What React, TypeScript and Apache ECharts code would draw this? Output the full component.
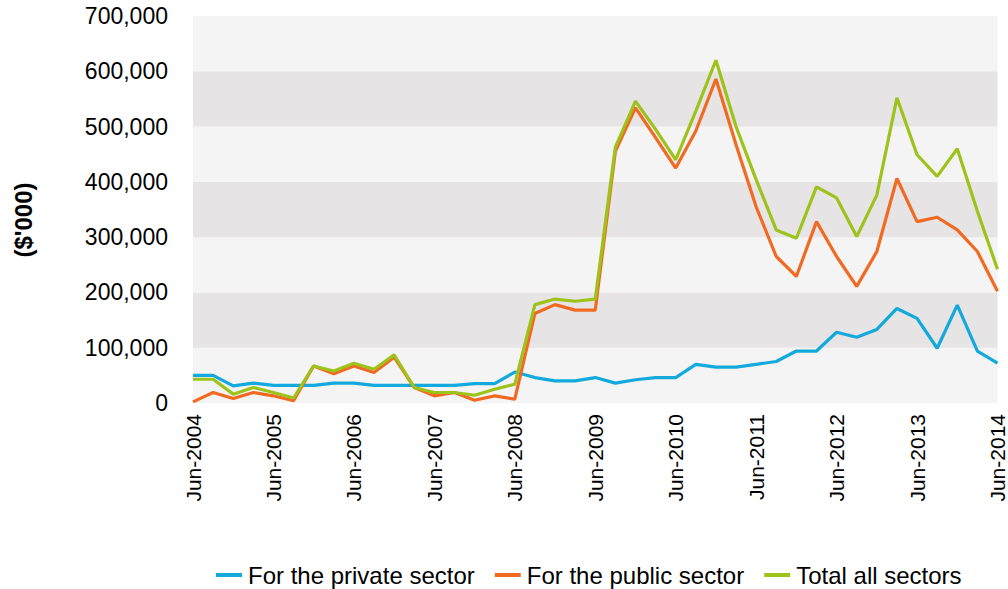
import React, { useEffect, useRef } from "react";
import * as echarts from "echarts";

const categories: string[] = [
  "Jun-2004", "Sep-2004", "Dec-2004", "Mar-2005",
  "Jun-2005", "Sep-2005", "Dec-2005", "Mar-2006",
  "Jun-2006", "Sep-2006", "Dec-2006", "Mar-2007",
  "Jun-2007", "Sep-2007", "Dec-2007", "Mar-2008",
  "Jun-2008", "Sep-2008", "Dec-2008", "Mar-2009",
  "Jun-2009", "Sep-2009", "Dec-2009", "Mar-2010",
  "Jun-2010", "Sep-2010", "Dec-2010", "Mar-2011",
  "Jun-2011", "Sep-2011", "Dec-2011", "Mar-2012",
  "Jun-2012", "Sep-2012", "Dec-2012", "Mar-2013",
  "Jun-2013", "Sep-2013", "Dec-2013", "Mar-2014",
  "Jun-2014",
];

// values in $'000
const privateSector: number[] = [
  50000, 50000, 31000, 36000, 32000, 32000, 32000, 36000, 36000, 32000,
  32000, 32000, 32000, 32000, 35000, 35000, 56000, 46000, 40000, 40000,
  46000, 36000, 42000, 46000, 46000, 70000, 65000, 65000, 70000, 75000,
  94000, 94000, 128000, 119000, 133000, 171000, 153000, 99000, 177000, 94000,
  72000,
];

const publicSector: number[] = [
  2000, 19000, 8000, 19000, 13000, 4000, 67000, 53000, 67000, 55000,
  83000, 28000, 13000, 19000, 5000, 13000, 7000, 162000, 178000, 168000,
  168000, 455000, 534000, 480000, 425000, 492000, 586000, 467000, 355000, 265000,
  229000, 328000, 265000, 211000, 274000, 406000, 328000, 336000, 313000, 274000,
  202000,
];

const totalAllSectors: number[] = [
  43000, 43000, 16000, 28000, 19000, 9000, 67000, 58000, 72000, 61000,
  87000, 28000, 19000, 19000, 14000, 25000, 34000, 178000, 188000, 184000,
  188000, 463000, 546000, 495000, 440000, 528000, 620000, 500000, 404000, 313000,
  298000, 391000, 371000, 301000, 376000, 552000, 449000, 410000, 460000, 347000,
  242000,
];

const seriesNames: string[] = [
  "For the private sector",
  "For the public sector",
  "Total all sectors",
];

const FONT = "'Liberation Sans', Arial, Helvetica, sans-serif";
const COLORS = ["#13a9dc", "#f26a22", "#9dc31b"];

export default function App() {
  const ref = useRef<HTMLDivElement>(null);

  useEffect(() => {
    if (!ref.current) return;
    const chart = echarts.init(ref.current, undefined, { renderer: "svg" });
    const mk = (name: string, data: number[], color: string) => ({
      name,
      type: "line",
      data,
      symbol: "none",
      showSymbol: false,
      lineStyle: { color, width: 3.2 },
      itemStyle: { color },
    });
    chart.setOption({
      animation: false,
      textStyle: { fontFamily: FONT },
      grid: { left: 193, right: 5, top: 16, bottom: 186, containLabel: false },
      xAxis: {
        type: "category",
        data: categories,
        boundaryGap: false,
        axisLine: { show: false },
        axisTick: { show: false },
        axisLabel: {
          interval: 3,
          rotate: 90,
          margin: 11,
          color: "#000",
          fontSize: 21,
          fontFamily: FONT,
        },
        splitLine: { show: false },
      },
      yAxis: {
        type: "value",
        min: 0,
        max: 700000,
        interval: 100000,
        axisLine: { show: false },
        axisTick: { show: false },
        axisLabel: {
          margin: 25,
          color: "#000",
          fontSize: 23,
          fontFamily: FONT,
          formatter: (v: number) => v.toLocaleString("en-US"),
        },
        splitLine: { show: false },
        splitArea: {
          show: true,
          areaStyle: { color: ["#f4f4f4", "#e6e4e5"] },
        },
      },
      legend: {
        data: seriesNames,
        left: 216,
        top: 563,
        padding: 0,
        icon: "rect",
        itemWidth: 26,
        itemHeight: 4,
        itemGap: 20,
        textStyle: {
          fontSize: 24,
          lineHeight: 24,
          color: "#000",
          fontFamily: FONT,
          padding: [0, 0, 0, 1],
        },
      },
      graphic: [
        {
          type: "text",
          x: 23,
          y: 220,
          rotation: Math.PI / 2,
          style: {
            text: "($'000)",
            fontSize: 24,
            fontWeight: "bold",
            fontFamily: FONT,
            fill: "#000",
            align: "center",
            verticalAlign: "middle",
          },
        },
      ],
      series: [
        mk(seriesNames[0], privateSector, COLORS[0]),
        mk(seriesNames[1], publicSector, COLORS[1]),
        mk(seriesNames[2], totalAllSectors, COLORS[2]),
      ],
    });
    return () => chart.dispose();
  }, []);

  return <div ref={ref} style={{ width: 1008, height: 589, position: "absolute", left: 0, top: 0 }} />;
}
